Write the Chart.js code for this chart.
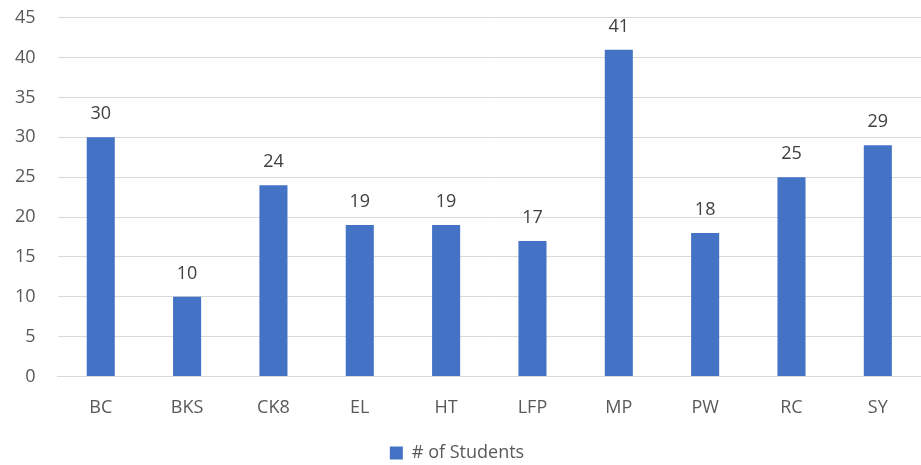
<!doctype html>
<html lang="en">
<head>
  <meta charset="utf-8">
  <script src="https://cdn.jsdelivr.net/npm/chart.js"></script>
  <style>
    html, body { margin: 0; padding: 0; background: #ffffff; overflow: hidden; }
    /* la caja se sube un poco para que la línea de 45 quede cerca del borde */
    #box { position: relative; top: -15px; width: 921px; height: 486px; }
  </style>
  <title># of Students</title>
</head>
<body>
  <div id="box"><canvas id="studentsChart"></canvas></div>
  <script>
    // datos del gráfico
    const categories = ["BC", "BKS", "CK8", "EL", "HT", "LFP", "MP", "PW", "RC", "SY"];
    const students = [30, 10, 24, 19, 19, 17, 41, 18, 25, 29];
    const seriesName = "# of Students";

    const fontFamily = "'Open Sans', 'Noto Sans', sans-serif";

    // etiquetas de valor encima de cada barra
    const valueLabels = {
      id: "valueLabels",
      afterDatasetsDraw(chart) {
        const ctx = chart.ctx;
        const meta = chart.getDatasetMeta(0);
        ctx.save();
        ctx.font = "18px " + fontFamily;
        ctx.fillStyle = "#404040";
        ctx.textAlign = "center";
        ctx.textBaseline = "bottom";
        meta.data.forEach((bar, i) => {
          ctx.fillText(String(chart.data.datasets[0].data[i]), bar.x, bar.y - 14);
        });
        ctx.restore();
      }
    };

    new Chart(document.getElementById("studentsChart"), {
      type: "bar",
      data: {
        labels: categories,
        datasets: [{
          label: seriesName,
          data: students,
          backgroundColor: "#4472C4",
          barPercentage: 0.65,
          categoryPercentage: 0.5
        }]
      },
      options: {
        responsive: true,
        maintainAspectRatio: false,
        animation: false,
        layout: { padding: { left: -7, top: -7, right: 0, bottom: -1 } },
        scales: {
          x: {
            grid: { display: false, drawTicks: false },
            border: { color: "#d9d9d9" },
            ticks: { color: "#595959", font: { family: fontFamily, size: 18 }, padding: 21 }
          },
          y: {
            min: 0,
            max: 45,
            grid: { color: "#d9d9d9", drawTicks: false },
            border: { display: false },
            ticks: { stepSize: 5, color: "#595959", font: { family: fontFamily, size: 18 }, padding: 22 }
          }
        },
        plugins: {
          legend: {
            position: "bottom",
            labels: {
              color: "#595959",
              font: { family: fontFamily, size: 18 },
              boxWidth: 13,
              boxHeight: 13,
              padding: 4
            }
          },
          tooltip: { enabled: false }
        }
      },
      plugins: [valueLabels]
    });
  </script>
</body>
</html>
